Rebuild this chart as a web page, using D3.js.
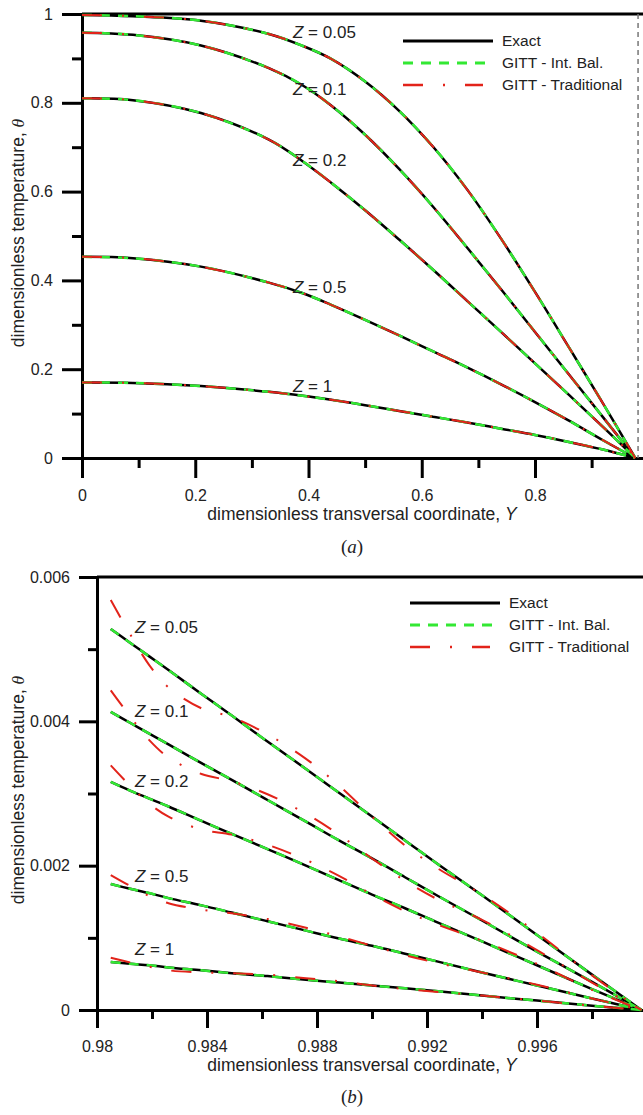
<!DOCTYPE html>
<html>
<head>
<meta charset="utf-8">
<script src="https://cdn.jsdelivr.net/npm/d3@7"></script>
<style>
    body { margin: 0; background: #fff; }
    text { font-family: "Liberation Sans", Arial, sans-serif; fill: #222; }
    .domain { stroke: #000; stroke-width: 3; }
    .tick line { stroke: #000; stroke-width: 3; }
    .tick text { font-size: 16px; }
</style>
</head>
<body>
<div id="chart"></div>
<script>
// Valores de Z de cada curva
const zLabels = ["0.05", "0.1", "0.2", "0.5", "1"]

// Panel (a): coordenada transversal Y y temperatura de cada curva
const topY = [0, 0.09, 0.21, 0.33, 0.39, 0.44, 0.50, 0.56, 0.62, 0.68, 0.74, 0.80, 0.86, 0.92, 0.977]
const topZ005 = [0.998, 0.995, 0.985, 0.955, 0.928, 0.899, 0.848, 0.782, 0.701, 0.605, 0.494, 0.374, 0.249, 0.123, 0]
const topZ01 = [0.958, 0.953, 0.929, 0.878, 0.839, 0.794, 0.728, 0.651, 0.566, 0.474, 0.380, 0.284, 0.188, 0.092, 0]
const topZ02 = [0.810, 0.806, 0.777, 0.717, 0.668, 0.620, 0.558, 0.492, 0.424, 0.354, 0.284, 0.213, 0.142, 0.070, 0]
const topZ05 = [0.453, 0.450, 0.431, 0.395, 0.371, 0.345, 0.311, 0.276, 0.240, 0.204, 0.166, 0.126, 0.084, 0.040, 0]
const topZ1 = [0.170, 0.169, 0.162, 0.149, 0.140, 0.131, 0.119, 0.106, 0.093, 0.080, 0.066, 0.052, 0.036, 0.019, 0]

// Panel (b): zoom cerca de la pared (theta x 1000)
const botY = [0.9805, 0.9812, 0.9819, 0.9826, 0.9838, 0.9849, 0.9862, 0.9876, 0.9888, 0.9900, 0.9912, 0.9924, 0.9940, 0.9960, 0.9980, 0.9998]
const botExactZ005 = [5.28, 5.09, 4.90, 4.71, 4.38, 4.08, 3.72, 3.34, 3.01, 2.68, 2.35, 2.02, 1.59, 1.04, 0.49, 0]
const botExactZ01 = [4.13, 3.98, 3.83, 3.68, 3.42, 3.19, 2.91, 2.61, 2.35, 2.10, 1.84, 1.58, 1.24, 0.81, 0.39, 0]
const botExactZ02 = [3.16, 3.04, 2.93, 2.82, 2.62, 2.44, 2.23, 2.00, 1.80, 1.60, 1.41, 1.21, 0.95, 0.62, 0.29, 0]
const botExactZ05 = [1.745, 1.68, 1.62, 1.55, 1.45, 1.35, 1.23, 1.10, 0.99, 0.89, 0.78, 0.67, 0.52, 0.34, 0.16, 0]
const botExactZ1 = [0.665, 0.64, 0.62, 0.59, 0.55, 0.51, 0.47, 0.42, 0.38, 0.34, 0.30, 0.26, 0.20, 0.13, 0.06, 0]
const botTradZ005 = [5.68, 5.21, 4.78, 4.47, 4.18, 4.06, 3.82, 3.48, 3.11, 2.68, 2.28, 1.96, 1.60, 1.07, 0.48, 0]
const botTradZ01 = [4.43, 4.07, 3.74, 3.50, 3.27, 3.17, 2.99, 2.72, 2.43, 2.10, 1.79, 1.53, 1.25, 0.83, 0.38, 0]
const botTradZ02 = [3.39, 3.11, 2.86, 2.68, 2.50, 2.43, 2.29, 2.08, 1.86, 1.60, 1.37, 1.18, 0.96, 0.64, 0.28, 0]
const botTradZ05 = [1.87, 1.72, 1.58, 1.48, 1.39, 1.34, 1.26, 1.14, 1.02, 0.89, 0.76, 0.65, 0.52, 0.35, 0.16, 0]
const botTradZ1 = [0.725, 0.66, 0.60, 0.55, 0.52, 0.51, 0.49, 0.44, 0.40, 0.34, 0.29, 0.25, 0.20, 0.13, 0.06, 0]

const legendNames = ["Exact", "GITT - Int. Bal.", "GITT - Traditional"]

const width = 643
const height = 1115

const svg = d3.select("#chart")
    .append("svg")
    .attr("width", width)
    .attr("height", height)
    .style("display", "block")

// Estilos de las tres series
const styles = [
    { color: "#000", dash: null, w: 2.5 },
    { color: "#33e833", dash: "10,8", w: 2.5 },
    { color: "#e2231a", dash: "20,20,2,20", w: 2 }
]

function drawPanel(p) {
    const g = svg.append("g")
    const x = d3.scaleLinear().domain(p.xDomain).range(p.xRange)
    const y = d3.scaleLinear().domain(p.yDomain).range(p.yRange)
    const x0 = p.xRange[0], yBase = p.yRange[0], yTop = p.yRange[1]

    // Marco superior
    g.append("line")
        .attr("x1", x0).attr("x2", width)
        .attr("y1", yTop).attr("y2", yTop)
        .attr("stroke", "#000").attr("stroke-width", 3)

    // Ejes con marcas menores
    g.append("g").attr("transform", `translate(0, ${yBase})`)
        .call(d3.axisBottom(x).tickValues(p.xMinor).tickSize(p.minor).tickSizeOuter(0).tickFormat(""))
        .select(".domain").remove()
    g.append("g").attr("transform", `translate(${x0}, 0)`)
        .call(d3.axisLeft(y).tickValues(p.yMinor).tickSize(p.minor).tickSizeOuter(0).tickFormat(""))
        .select(".domain").remove()
    g.append("g").attr("transform", `translate(0, ${yBase})`)
        .call(d3.axisBottom(x).tickValues(p.xTicks).tickSize(p.major).tickSizeOuter(0)
            .tickPadding(p.xPad).tickFormat(d => String(+d.toFixed(4))))
    g.append("g").attr("transform", `translate(${x0}, 0)`)
        .call(d3.axisLeft(y).tickValues(p.yTicks).tickSize(p.major).tickSizeOuter(0)
            .tickPadding(9).tickFormat(d => String(+d.toFixed(4))))

    // Líneas
    const line = d3.line()
        .x((d, i) => x(p.grid[i]))
        .y(d => y(d * p.scale))
        .curve(d3.curveCatmullRom.alpha(0.5))
    p.series.forEach((set, k) => {
        set.forEach(vals => {
            g.append("path")
                .datum(vals)
                .attr("fill", "none")
                .attr("stroke", styles[k].color)
                .attr("stroke-width", styles[k].w)
                .attr("stroke-dasharray", styles[k].dash)
                .attr("d", line)
        })
    })

    // Etiquetas Z
    zLabels.forEach((z, i) => {
        const t = g.append("text")
            .attr("x", p.zx).attr("y", p.zy[i])
            .style("font-size", "17px")
        t.append("tspan").style("font-style", "italic").text("Z")
        t.append("tspan").text(" = " + z)
    })

    // Leyenda
    legendNames.forEach((name, i) => {
        const ly = p.legY + i * 22
        g.append("line")
            .attr("x1", p.legX).attr("x2", p.legX + (i == 2 ? 80 : 90))
            .attr("y1", ly).attr("y2", ly)
            .attr("stroke", styles[i].color)
            .attr("stroke-width", styles[i].w + 0.5)
            .attr("stroke-dasharray", styles[i].dash)
        g.append("text")
            .attr("x", p.legX + 99).attr("y", ly + 5)
            .style("font-size", "15.5px")
            .text(name)
    })

    // Títulos de ejes
    const xt = g.append("text")
        .attr("x", 362).attr("y", p.xTitleY)
        .attr("text-anchor", "middle")
        .style("font-size", "17.5px")
    xt.append("tspan").text("dimensionless transversal coordinate, ")
    xt.append("tspan").style("font-style", "italic").text("Y")

    const yt = g.append("text")
        .attr("transform", `translate(24, ${p.yTitleY}) rotate(-90)`)
        .attr("text-anchor", "middle")
        .style("font-size", "17.5px")
    yt.append("tspan").text("dimensionless temperature, ")
    yt.append("tspan").style("font-style", "italic").style("font-family", "Liberation Serif, serif").text("θ")

    // (a) / (b)
    const cap = g.append("text")
        .attr("x", 352).attr("y", p.capY)
        .attr("text-anchor", "middle")
        .style("font-family", "Liberation Serif, serif")
        .style("font-size", "19px")
    cap.append("tspan").text("(")
    cap.append("tspan").style("font-style", "italic").text(p.cap)
    cap.append("tspan").text(")")

    return { x, y, g }
}

// Panel (a)
const panelA = drawPanel({
    xDomain: [0, 1], xRange: [82, 648.25],
    yDomain: [0, 1], yRange: [458, 14],
    xTicks: [0, 0.2, 0.4, 0.6, 0.8], xMinor: [0.1, 0.3, 0.5, 0.7, 0.9],
    yTicks: [0, 0.2, 0.4, 0.6, 0.8, 1], yMinor: [0.1, 0.3, 0.5, 0.7, 0.9],
    major: 20, minor: 10, xPad: 12,
    grid: topY, scale: 1,
    // en (a) las tres soluciones coinciden
    series: [
        [topZ005, topZ01, topZ02, topZ05, topZ1],
        [topZ005, topZ01, topZ02, topZ05, topZ1],
        [topZ005, topZ01, topZ02, topZ05, topZ1]
    ],
    zx: 293, zy: [38, 95, 166, 293, 392],
    legX: 403, legY: 41,
    xTitleY: 520, yTitleY: 233, capY: 553, cap: "a"
})

// Línea discontinua vertical del panel (a)
panelA.g.append("line")
    .attr("x1", panelA.x(0.982)).attr("x2", panelA.x(0.982))
    .attr("y1", 14).attr("y2", 458)
    .attr("stroke", "#777").attr("stroke-width", 1.5)
    .attr("stroke-dasharray", "5,4")

// Panel (b)
const panelB = drawPanel({
    xDomain: [0.98, 1], xRange: [97, 647],
    yDomain: [0, 0.006], yRange: [1010, 577],
    xTicks: [0.98, 0.984, 0.988, 0.992, 0.996], xMinor: [0.982, 0.986, 0.99, 0.994, 0.998],
    yTicks: [0, 0.002, 0.004, 0.006], yMinor: [0.001, 0.003, 0.005],
    major: 18, minor: 9, xPad: 13,
    grid: botY, scale: 0.001,
    series: [
        [botExactZ005, botExactZ01, botExactZ02, botExactZ05, botExactZ1],
        [botExactZ005, botExactZ01, botExactZ02, botExactZ05, botExactZ1],
        [botTradZ005, botTradZ01, botTradZ02, botTradZ05, botTradZ1]
    ],
    zx: 135, zy: [633, 717, 787, 882, 955],
    legX: 410, legY: 603,
    xTitleY: 1071, yTitleY: 790, capY: 1103, cap: "b"
})
</script>
</body>
</html>
